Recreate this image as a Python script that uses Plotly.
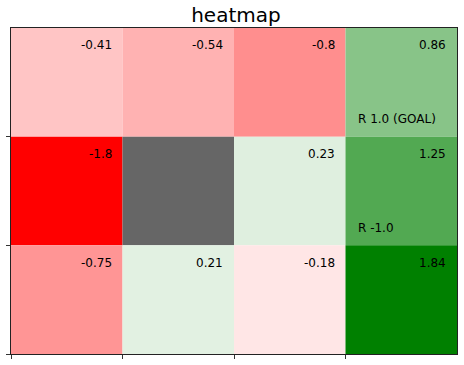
import plotly.graph_objects as go

values = [
    [-0.41, -0.54, -0.8, 0.86],
    [-1.8, None, 0.23, 1.25],
    [-0.75, 0.21, -0.18, 1.84],
]
wall = (1, 1)
labels = {(0, 3): "R 1.0 (GOAL)", (1, 3): "R -1.0"}
x_ticks = [0, 1, 2, 3]
y_ticks = [1, 2, 3]

nrows = len(values)
ncols = len(values[0])
flat = [v for row in values for v in row if v is not None]
red_max = max(-v for v in flat if v < 0)
green_max = max(v for v in flat if v > 0)


def cell_color(v):
    if v < 0:
        a = -v / red_max
        c = (255, 255 * (1 - a), 255 * (1 - a))
    else:
        a = v / green_max
        c = (255 * (1 - a), 255 - 127 * a, 255 * (1 - a))
    return "rgb(%d,%d,%d)" % tuple(round(x) for x in c)


fig = go.Figure()
shapes = []
annotations = []
for r in range(nrows):
    for c in range(ncols):
        v = values[r][c]
        color = "#666666" if (r, c) == wall else cell_color(v)
        shapes.append(dict(type="rect", xref="x", yref="y", x0=c, x1=c + 1, y0=r, y1=r + 1,
                           fillcolor=color, line=dict(width=0), layer="below"))
        if v is not None:
            annotations.append(dict(x=c + 0.92, y=r + 0.16, xref="x", yref="y", text=str(v),
                                    showarrow=False, xanchor="right", yanchor="middle",
                                    font=dict(size=12, color="black", family="DejaVu Sans")))
for (r, c), t in labels.items():
    annotations.append(dict(x=c + 0.09, y=r + 0.84, xref="x", yref="y", text=t,
                            showarrow=False, xanchor="left", yanchor="middle",
                            font=dict(size=12, color="black", family="DejaVu Sans")))

fig.add_trace(go.Scatter(x=[0, ncols], y=[0, nrows], mode="markers",
                         marker=dict(opacity=0), hoverinfo="skip", showlegend=False))

fig.update_layout(
    width=464, height=365,
    margin=dict(l=11, r=7, t=28, b=11, autoexpand=False),
    paper_bgcolor="white", plot_bgcolor="white",
    shapes=shapes, annotations=annotations,
    title=dict(text="heatmap", x=234 / 464, xanchor="center", y=1 - 15 / 365, yanchor="middle",
               xref="paper", yref="container",
               font=dict(size=20, family="DejaVu Sans", color="black")),
    font=dict(family="DejaVu Sans"),
    showlegend=False,
)
fig.update_xaxes(range=[0, ncols], tickvals=x_ticks, showticklabels=False, ticks="outside",
                 ticklen=4, tickcolor="#333333", showgrid=False, zeroline=False, automargin=False,
                 showline=True, linecolor="#222222", linewidth=1, mirror=True)
fig.update_yaxes(range=[nrows, 0], tickvals=y_ticks, showticklabels=False, ticks="outside",
                 ticklen=4, tickcolor="#333333", showgrid=False, zeroline=False, automargin=False,
                 showline=True, linecolor="#222222", linewidth=1, mirror=True)
fig.write_html("out.html", config={"displayModeBar": False},
               post_script="document.body.style.margin='0';")
